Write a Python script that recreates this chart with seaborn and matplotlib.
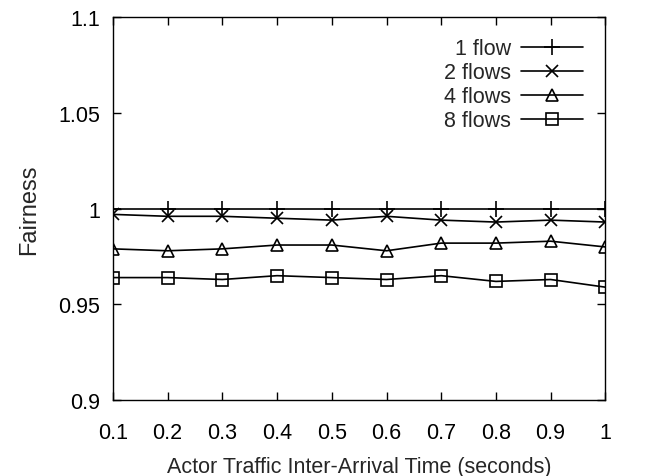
import pandas as pd
import matplotlib
matplotlib.use("Agg")
import matplotlib.pyplot as plt
import seaborn as sns

# data
arrival = [0.1, 0.2, 0.3, 0.4, 0.5, 0.6, 0.7, 0.8, 0.9, 1.0]
flow1 = [1.0, 1.0, 1.0, 1.0, 1.0, 1.0, 1.0, 1.0, 1.0, 1.0]
flow2 = [0.997, 0.996, 0.996, 0.995, 0.994, 0.996, 0.994, 0.993, 0.994, 0.993]
flow4 = [0.979, 0.978, 0.979, 0.981, 0.981, 0.978, 0.982, 0.982, 0.983, 0.980]
flow8 = [0.964, 0.964, 0.963, 0.965, 0.964, 0.963, 0.965, 0.962, 0.963, 0.959]

series = {"1 flow": (flow1, "+"), "2 flows": (flow2, "x"),
          "4 flows": (flow4, "^"), "8 flows": (flow8, "s")}
xticks = [0.1, 0.2, 0.3, 0.4, 0.5, 0.6, 0.7, 0.8, 0.9, 1.0]
xticklabels = ["0.1", "0.2", "0.3", "0.4", "0.5", "0.6", "0.7", "0.8", "0.9", "1"]
yticks = [0.9, 0.95, 1.0, 1.05, 1.1]
yticklabels = ["0.9", "0.95", "1", "1.05", "1.1"]

sns.set_theme(style="ticks")
plt.rcParams["font.family"] = ["Liberation Sans", "DejaVu Sans"]

fig = plt.figure(figsize=(6.53, 4.77), dpi=100)
ax = fig.add_axes([0.173, 0.159, 0.754, 0.803])

sizes = {"+": 12, "x": 9, "^": 8, "s": 8}
for name, (vals, mk) in series.items():
    df = pd.DataFrame({"x": arrival, "y": vals})
    sns.lineplot(data=df, x="x", y="y", ax=ax, color="black", linewidth=1.2,
                 marker=mk, markersize=sizes[mk], markerfacecolor="none",
                 markeredgecolor="black", markeredgewidth=1.2, label=name)

ax.set_xlim(0.1, 1.0)
ax.set_ylim(0.9, 1.1)
ax.set_xticks(xticks)
ax.set_xticklabels(xticklabels)
ax.set_yticks(yticks)
ax.set_yticklabels(yticklabels)
ax.tick_params(direction="in", length=6, width=1, top=True, right=True,
               labelsize=15.5, colors="black")
ax.tick_params(axis="x", pad=16)
ax.tick_params(axis="y", pad=9)
for s in ax.spines.values():
    s.set_color("black")
    s.set_linewidth(1.0)

ax.set_xlabel("Actor Traffic Inter-Arrival Time (seconds)", fontsize=15.5, labelpad=9)
ax.set_ylabel("Fairness", fontsize=17, labelpad=13)

ax.legend(loc="upper right", bbox_to_anchor=(0.955, 0.945), frameon=False,
          markerfirst=False, fontsize=15.5, handlelength=2.9, handletextpad=0.45,
          labelspacing=0.14, borderaxespad=0, borderpad=0)

fig.savefig("out.png", dpi=100)
